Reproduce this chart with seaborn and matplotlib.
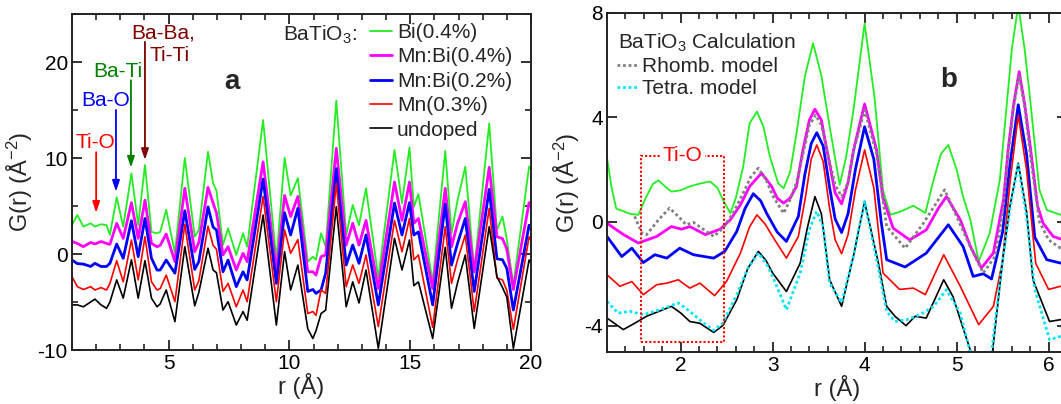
import numpy as np
import pandas as pd
import matplotlib
matplotlib.use("Agg")
import matplotlib.pyplot as plt
from matplotlib.patches import Rectangle
from matplotlib.ticker import MultipleLocator
import seaborn as sns

# ---------------- Panel a data (common r grid) ----------------
r_a = [1.0, 1.22, 1.47, 1.77, 1.95, 2.2, 2.43, 2.57, 2.85, 3.12, 3.46, 3.74, 4.02, 4.29,
       4.52, 4.65, 4.9, 5.26, 5.67, 6.08, 6.25, 6.63, 6.84, 6.98, 7.25, 7.46, 7.8, 8.08,
       8.25, 8.91, 9.46, 9.8, 10.05, 10.35, 10.76, 10.97, 11.1, 11.31, 11.5, 11.94, 12.35,
       12.62, 12.88, 13.17, 13.68, 14.35, 14.66, 14.97, 15.15, 15.34, 15.93, 16.45, 16.71,
       16.96, 17.28, 17.65, 18.27, 18.59, 18.82, 19.0, 19.27, 19.92, 20.0]

g_bi04 = [3.0, 4.06, 2.85, 3.2, 2.85, 3.1, 3.0, 2.0, 5.9, 2.85, 8.4, 3.0, 9.27, 2.3,
          2.15, 2.3, 4.6, 0.07, 10.0, 1.8, 2.5, 10.66, 7.36, 6.6, 0.93, 2.67, -0.1, 2.15,
          0.76, 13.95, -0.63, 10.03, 6.1, 7.9, -0.8, -0.28, -0.6, 2.15, 0.76, 15.97, 1.98,
          5.1, 3.0, 6.84, -2.5, 10.83, 5.3, 11.1, 4.9, 6.25, -2.9, 10.73, 2.15,
          5.6, 9.1, -1.67, 13.6, 2.5, 3.9, 1.5, -3.2, 9.1, 8.8]

g_mnbi04 = [1.3, 1.1, 0.76, 1.2, 1.05, 1.3, 1.1, 1.0, 3.2, 1.63, 5.35, 1.63, 5.6, 1.1,
            0.76, 0.9, 2.08, -0.8, 6.84, 0.24, 1.2, 6.94, 5.3, 4.3, -0.1, 0.76, -1.67, 0.07,
            -0.8, 9.6, -1.85, 6.1, 3.9, 6.0, -1.85, -1.85, -2.2, -0.28, -0.1, 11.0, 0.93,
            3.2, 0.93, 3.5, -3.6, 7.5, 3.5, 7.5, 3.2, 3.7, -3.6, 6.84, 0.76,
            3.2, 5.45, -1.85, 9.03, 1.8, 1.6, 0.5, -3.7, 5.35, 5.0]

g_mnbi02 = [-0.63, -1.0, -1.05, -1.3, -0.97, -1.3, -1.3, -0.97, 1.04, -0.45, 3.47, -0.28, 3.7, -0.45,
            -1.67, -1.67, -0.63, -2.0, 4.5, -1.6, -0.8, 4.9, 2.8, 2.5, -1.85, -0.63, -3.4, -1.85,
            -2.7, 7.8, -3.06, 4.3, 1.98, 4.76, -3.9, -3.7, -4.1, -3.75, -2.0, 8.9, -1.15,
            0.93, -0.97, 1.98, -5.3, 5.3, 1.98, 5.35, 1.98, 2.3, -5.3, 5.2, -1.15,
            1.1, 3.7, -3.9, 6.73, -0.5, -0.6, -1.5, -5.84, 3.0, 2.6]

g_mn03 = [-2.36, -3.4, -3.7, -3.4, -3.75, -3.5, -3.75, -3.06, -0.7, -2.9, 1.46, -2.7, 1.8, -2.9,
          -3.75, -3.6, -2.2, -4.97, 3.1, -3.75, -2.8, 2.9, 0.9, 0.5, -3.9, -3.06, -5.5, -3.75,
          -4.97, 6.0, -4.97, 2.5, 0.07, 1.5, -6.2, -6.0, -6.4, -3.75, -4.1, 7.36, -3.4,
          -1.15, -3.06, -0.1, -7.57, 3.5, 0.24, 3.7, -0.6, -0.1, -7.64, 2.85, -3.06,
          -0.6, 1.98, -6.0, 4.76, -2.5, -2.7, -3.8, -7.85, 1.8, 1.4]

g_undoped = [-5.3, -5.3, -5.5, -5.0, -4.7, -5.3, -5.66, -5.0, -2.7, -4.6, -0.6, -4.6, -0.7, -4.6,
             -5.5, -5.2, -3.75, -7.05, 0.76, -5.4, -4.0, 0.6, -1.67, -1.95, -5.84, -4.97, -7.4, -6.0,
             -6.9, 4.06, -7.4, 0.24, -3.75, -1.15, -7.8, -8.8, -8.0, -6.2, -5.84, 4.93, -5.5,
             -2.9, -5.1, -1.67, -9.83, 1.63, -1.67, 1.46, -3.3, -2.9, -8.8, 0.69, -5.66,
             -3.0, -0.1, -7.75, 2.85, -2.36, -3.5, -4.5, -9.83, -0.63, -1.0]

labels_a = ["Bi(0.4%)", "Mn:Bi(0.4%)", "Mn:Bi(0.2%)", "Mn(0.3%)", "undoped"]

# ---------------- Panel b data ----------------
rb_bi04 = [1.2, 1.25, 1.3, 1.45, 1.54, 1.62, 1.7, 1.76, 1.83, 1.9, 2.0, 2.1, 2.2, 2.32, 2.4,
           2.46, 2.54, 2.6, 2.68, 2.75, 2.83, 2.9, 2.97, 3.06, 3.12, 3.19, 3.26, 3.35, 3.44,
           3.53, 3.62, 3.73, 3.8, 3.88, 4.0, 4.11, 4.2, 4.28, 4.4, 4.53, 4.66, 4.75, 4.83,
           4.91, 5.0, 5.07, 5.15, 5.24, 5.36, 5.47, 5.55, 5.6, 5.67, 5.74, 5.8, 5.9, 5.98,
           6.13, 6.2]
gb_bi04 = [2.45, 1.3, 0.5, 0.3, 0.26, 0.9, 1.45, 1.58, 1.35, 1.15, 1.2, 1.35, 1.45, 1.54, 1.3,
           0.84, 0.32, 0.9, 2.1, 3.77, 4.22, 3.64, 2.5, 1.47, 1.28, 1.9, 3.39, 5.56, 6.84,
           5.6, 3.64, 1.41, 2.5, 4.3, 7.6, 4.7, 1.2, 0.26, 0.4, 0.61, 0.33, 1.6, 2.6,
           2.94, 2.0, 0.96, 0.07, -1.53, -0.44, 1.6, 4.67, 6.6, 8.3, 6.6, 4.67, 1.22, 0.45,
           0.26, 0.2]

rb_mnbi04 = [1.2, 1.38, 1.54, 1.74, 1.9, 2.01, 2.1, 2.27, 2.43, 2.54, 2.65, 2.75, 2.88, 2.99,
             3.05, 3.12, 3.19, 3.26, 3.33, 3.4, 3.46, 3.53, 3.59, 3.68, 3.75, 3.82, 3.88, 4.0,
             4.13, 4.2, 4.31, 4.49, 4.67, 4.8, 4.89, 5.04, 5.15, 5.27, 5.4, 5.51, 5.56, 5.62,
             5.68, 5.74, 5.8, 5.88, 5.94, 6.05, 6.2]
gb_mnbi04 = [-0.06, -0.5, -0.82, -0.57, -0.19, -0.29, -0.19, -0.5, -0.29, 0.07, 0.64, 1.35, 1.86, 1.35,
             0.9, 0.71, 0.9, 1.35, 2.75, 3.9, 4.31, 3.9, 2.75, 1.1, 0.68, 1.5, 2.75, 4.51,
             2.75, 0.9, -0.25, -0.7, -0.32, 0.5, 0.96, 0.07, -0.95, -1.78, -1.2, 0.84, 2.75, 4.5,
             5.75, 4.5, 2.9, 0.6, -0.06, -0.57, -0.75]

rb_mnbi02 = [1.2, 1.36, 1.47, 1.595, 1.72, 1.85, 1.99, 2.14, 2.36, 2.48, 2.61, 2.7, 2.79, 2.87,
             2.935, 3.05, 3.15, 3.28, 3.35, 3.42, 3.48, 3.55, 3.62, 3.68, 3.75, 3.82, 3.9, 4.0,
             4.1, 4.18, 4.24, 4.44, 4.67, 4.91, 5.07, 5.18, 5.29, 5.38, 5.5, 5.58, 5.67, 5.76,
             5.85, 5.98, 6.13, 6.2]
gb_mnbi02 = [-0.57, -1.34, -1.02, -1.57, -1.27, -1.4, -1.02, -1.27, -1.4, -1.14, -0.38, 0.5, 1.07, 0.8,
             0.32, -0.4, -0.76, 0.2, 1.8, 3.0, 3.41, 2.9, 1.3, 0.1, -0.42, 0.3, 2.0, 3.64,
             2.4, 0.0, -1.46, -1.74, -1.21, -0.12, -0.95, -2.1, -2.0, -2.2, -0.4, 2.2, 4.48, 2.6,
             -0.6, -1.46, -1.59, -1.6]

rb_mn03 = [1.2, 1.34, 1.47, 1.595, 1.74, 1.85, 1.975, 2.1, 2.21, 2.37, 2.5, 2.65, 2.75, 2.83,
           2.92, 3.0, 3.15, 3.28, 3.36, 3.42, 3.48, 3.55, 3.62, 3.68, 3.75, 3.82, 3.9, 4.0,
           4.1, 4.2, 4.38, 4.53, 4.66, 4.86, 5.04, 5.24, 5.4, 5.5, 5.58, 5.67, 5.76, 5.86,
           6.0, 6.13, 6.2]
gb_mn03 = [-2.04, -2.48, -2.3, -2.8, -2.42, -2.36, -2.23, -2.55, -2.36, -2.84, -2.29, -1.21, -0.2, 0.26,
           -0.1, -0.57, -1.4, -0.57, 1.0, 2.4, 2.94, 2.3, 0.5, -0.7, -1.23, -0.5, 1.2, 2.75,
           1.3, -1.97, -2.6, -2.55, -2.8, -1.27, -2.48, -3.95, -3.25, -1.5, 1.5, 4.09, 2.0, -1.6,
           -2.6, -2.48, -2.45]

rb_undoped = [1.2, 1.377, 1.5, 1.63, 1.9, 2.0, 2.1, 2.21, 2.36, 2.46, 2.61, 2.73, 2.845, 2.93,
              3.0, 3.15, 3.3, 3.38, 3.46, 3.53, 3.62, 3.75, 3.88, 4.0, 4.15, 4.24, 4.33, 4.45,
              4.55, 4.67, 4.86, 4.96, 5.07, 5.16, 5.27, 5.39, 5.5, 5.58, 5.67, 5.76, 5.83,
              6.01, 6.13, 6.2]
gb_undoped = [-3.7, -4.14, -3.9, -3.63, -3.25, -3.5, -3.83, -3.9, -4.25, -3.98, -3.0, -1.8, -1.14, -1.5,
              -1.97, -2.68, -1.59, -0.2, 0.96, 0.3, -2.23, -3.25, -1.3, 0.77, -1.59, -3.25, -3.63, -3.99,
              -3.63, -3.7, -2.23, -2.87, -4.08, -5.04, -6.3, -5.0, -1.5, 0.6, 2.24, 0.4, -2.23,
              -3.83, -3.76, -3.7]

rb_rhomb = [1.5, 1.58, 1.63, 1.76, 1.88, 1.975, 2.06, 2.14, 2.25, 2.36, 2.46, 2.57, 2.68, 2.76,
            2.845, 2.93, 3.0, 3.12, 3.19, 3.26, 3.33, 3.4, 3.468, 3.53, 3.6, 3.68, 3.75, 3.82,
            3.88, 4.0, 4.13, 4.24, 4.44, 4.64, 4.87, 5.0, 5.18, 5.29, 5.42, 5.51, 5.56, 5.62,
            5.68, 5.74, 5.8, 5.9, 6.0, 6.13, 6.2]
gb_rhomb = [0.2, -0.44, -0.5, 0.07, 0.52, 0.2, -0.12, -0.03, -0.3, -0.57, -0.25, 0.32, 1.09, 1.7,
            2.05, 1.6, 1.0, 0.32, 0.84, 1.5, 2.6, 3.7, 4.09, 3.7, 2.6, 1.4, 0.96, 1.5,
            2.7, 4.28, 2.6, -0.19, -1.02, -0.06, 1.22, 0.2, -1.2, -1.97, -1.33, 0.6, 2.6, 4.4,
            5.62, 4.4, 2.6, 0.0, -0.7, -1.02, -1.1]

rb_tetra = [1.2, 1.32, 1.45, 1.595, 1.776, 1.975, 2.1, 2.25, 2.36, 2.46, 2.61, 2.73, 2.845, 2.93,
            3.0, 3.15, 3.3, 3.4, 3.48, 3.55, 3.62, 3.75, 3.88, 4.0, 4.15, 4.24, 4.33, 4.46,
            4.6, 4.75, 4.89, 5.04, 5.15, 5.27, 5.38, 5.5, 5.58, 5.67, 5.76, 5.85, 6.01, 6.13, 6.2]
gb_tetra = [-3.06, -3.51, -3.44, -3.57, -3.38, -3.12, -3.44, -3.89, -4.17, -3.89, -2.8, -1.8, -1.21, -1.6,
            -2.1, -3.38, -1.97, -0.3, 0.39, -0.2, -2.36, -3.1, -1.3, 0.77, -1.8, -3.44, -3.83, -3.76,
            -3.57, -3.25, -2.61, -3.51, -5.04, -6.3, -5.0, -1.5, 0.5, 2.18, 0.2, -2.6, -4.53, -4.4, -4.3]

# ---------------- Style ----------------
sns.set_theme(style="ticks")
plt.rcParams["font.family"] = ["Liberation Sans", "DejaVu Sans"]
plt.rcParams["mathtext.fontset"] = "custom"
plt.rcParams["mathtext.rm"] = "Liberation Sans"
plt.rcParams["mathtext.it"] = "Liberation Sans:italic"
plt.rcParams["mathtext.bf"] = "Liberation Sans:bold"
plt.rcParams["mathtext.default"] = "regular"
plt.rcParams["axes.unicode_minus"] = False
plt.rcParams["axes.linewidth"] = 1.4
plt.rcParams["axes.edgecolor"] = "#222222"

GREEN, MAGENTA, BLUE, RED, BLACK = "#22ee22", "#ff00ff", "#0000ff", "#ff0000", "#000000"
GRAY, CYAN = "#808080", "#00e5ff"

fig = plt.figure(figsize=(10.61, 4.04), dpi=100)
W, H = 1061.0, 404.0
axa = fig.add_axes([72 / W, 1 - 350 / H, (531 - 72) / W, (350 - 14) / H])
axb = fig.add_axes([607 / W, 1 - 352 / H, (1067 - 607) / W, (352 - 13) / H])

def style_axis(ax):
    ax.tick_params(which="both", direction="in", top=True, right=True,
                   labelsize=15, colors="#222222", labelcolor="black", pad=3)
    ax.tick_params(which="major", length=7, width=1.3)
    ax.tick_params(which="minor", length=4, width=1.2)
    for s in ax.spines.values():
        s.set_linewidth(1.4)

# ---------------- Panel a ----------------
series_a = [g_bi04, g_mnbi04, g_mnbi02, g_mn03, g_undoped]
colors_a = [GREEN, MAGENTA, BLUE, RED, BLACK]
lws_a = [1.3, 2.0, 2.0, 1.2, 1.2]
for vals, c, lw, lab in zip(series_a, colors_a, lws_a, labels_a):
    sns.lineplot(x=r_a, y=vals, ax=axa, color=c, lw=lw, label=lab, estimator=None, sort=False)

axa.set_xlim(1, 20)
axa.set_ylim(-10, 25)
axa.set_xticks([5, 10, 15, 20])
axa.set_yticks([-10, 0, 10, 20])
axa.xaxis.set_minor_locator(MultipleLocator(1))
axa.yaxis.set_minor_locator(MultipleLocator(5))
style_axis(axa)
axa.set_xlabel("r (Å)", fontsize=17, labelpad=0)
axa.set_ylabel("G(r) (Å$^{-2}$)", fontsize=17, labelpad=2)

leg = axa.legend(loc="upper left", bbox_to_anchor=(370 / W, 1 - 23 / H),
                 bbox_transform=fig.transFigure, frameon=False, fontsize=15,
                 handlelength=1.05, handletextpad=0.25, labelspacing=0.26,
                 borderpad=0, borderaxespad=0)
axa.text(9.75, 22.8, "BaTiO$_3$:", fontsize=15, ha="left", va="center")
axa.text(7.6, 17.9, "a", fontsize=20, fontweight="bold", ha="center", va="center")

# arrows / labels
ann = [("Ti-O", RED, 1.95, 11.6, 2.0, 10.6, 4.3),
       ("Ba-O", BLUE, 2.4, 16.0, 2.82, 15.0, 6.5),
       ("Ba-Ti", "#008000", 2.9, 19.0, 3.44, 18.1, 9.0)]
for txt, c, tx, ty, ax_r, tail, tip in ann:
    axa.text(tx, ty, txt, color=c, fontsize=15, ha="center", va="center")
    axa.annotate("", xy=(ax_r, tip), xytext=(ax_r, tail),
                 arrowprops=dict(arrowstyle="-|>,head_length=0.65,head_width=0.22",
                                 color=c, lw=1.3, mutation_scale=10, shrinkA=0, shrinkB=0))
MAROON = "#800000"
axa.text(3.45, 23.0, "Ba-Ba,", color=MAROON, fontsize=15, ha="left", va="center")
axa.text(4.2, 20.7, "Ti-Ti", color=MAROON, fontsize=15, ha="left", va="center")
axa.annotate("", xy=(4.02, 9.8), xytext=(4.02, 22.1),
             arrowprops=dict(arrowstyle="-|>,head_length=0.65,head_width=0.22",
                             color=MAROON, lw=1.3, mutation_scale=10, shrinkA=0, shrinkB=0))

# ---------------- Panel b ----------------
solid_b = [(rb_bi04, gb_bi04, GREEN, 1.3), (rb_mnbi04, gb_mnbi04, MAGENTA, 2.0),
           (rb_mnbi02, gb_mnbi02, BLUE, 2.0), (rb_mn03, gb_mn03, RED, 1.2),
           (rb_undoped, gb_undoped, BLACK, 1.2)]
for rr, vv, c, lw in solid_b:
    sns.lineplot(x=rr, y=vv, ax=axb, color=c, lw=lw, estimator=None, sort=False)
sns.lineplot(x=rb_rhomb, y=gb_rhomb, ax=axb, color=GRAY, lw=2.0, estimator=None, sort=False,
             label="Rhomb. model", linestyle=(0, (1, 1)))
sns.lineplot(x=rb_tetra, y=gb_tetra, ax=axb, color=CYAN, lw=2.0, estimator=None, sort=False,
             label="Tetra. model", linestyle=(0, (1, 1)))

axb.set_xlim(1.2, 6.2)
axb.set_ylim(-5, 8)
axb.set_xticks([2, 3, 4, 5, 6])
axb.xaxis.set_minor_locator(MultipleLocator(0.2))
axb.set_yticks([-4, 0, 4, 8])
style_axis(axb)
axb.set_xlabel("r (Å)", fontsize=17, labelpad=0)
axb.set_ylabel("G(r) (Å$^{-2}$)", fontsize=17, labelpad=2)

axb.legend(loc="upper left", bbox_to_anchor=(617 / W, 1 - 57 / H),
           bbox_transform=fig.transFigure, frameon=False, fontsize=15,
           handlelength=1.0, handletextpad=0.2, labelspacing=0.15,
           borderpad=0, borderaxespad=0)
axb.text(1.32, 6.85, "BaTiO$_3$ Calculation", fontsize=15, ha="left", va="center")
axb.text(4.91, 5.43, "b", fontsize=20, fontweight="bold", ha="center", va="center")

box = Rectangle((1.566, -4.62), 2.475 - 1.566, 2.53 + 4.62, fill=False,
                edgecolor=RED, lw=1.5, linestyle=(0, (1, 1)), zorder=5)
axb.add_patch(box)
axb.text(2.02, 2.53, "Ti-O", color=RED, fontsize=15, ha="center", va="center", zorder=6,
         bbox=dict(facecolor="white", edgecolor="none", pad=2))

fig.savefig("out.png", dpi=100)
